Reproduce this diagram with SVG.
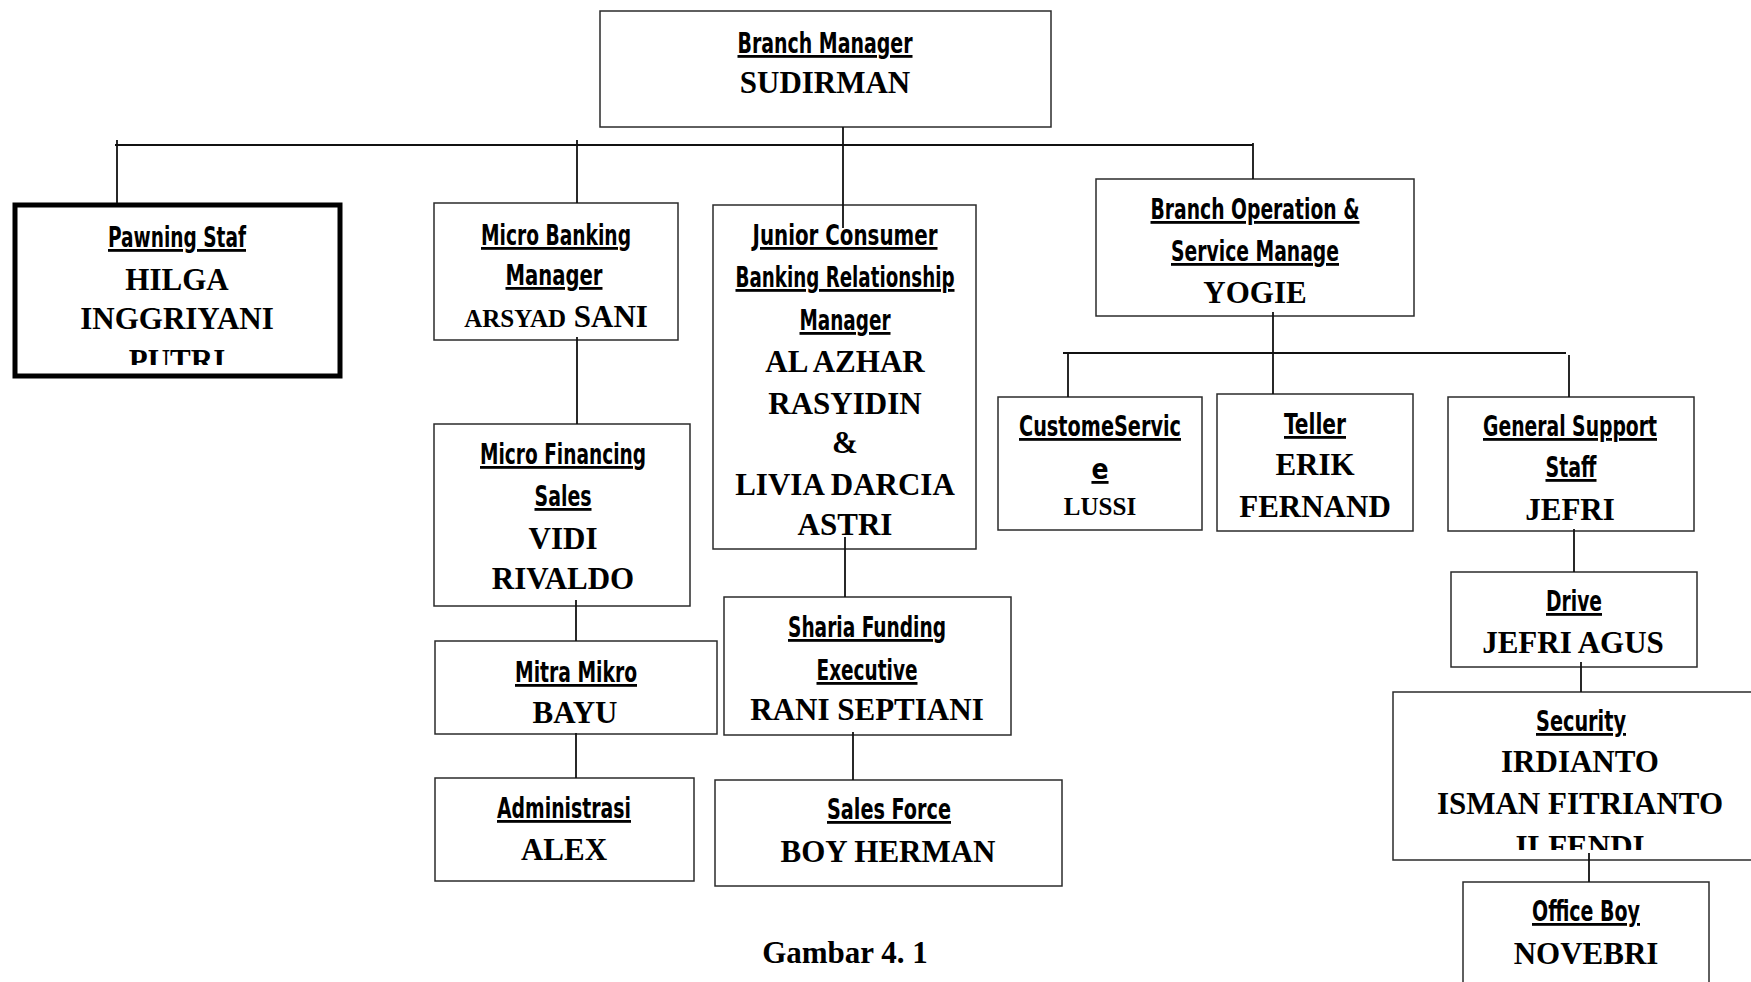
<svg xmlns="http://www.w3.org/2000/svg" width="1751" height="982" viewBox="0 0 1751 982">
<style>
.box{fill:#fff;stroke:#2b2b2b;stroke-width:1.5}
.t{font-family:'DejaVu Sans Condensed','DejaVu Sans',sans-serif;font-weight:bold;font-stretch:condensed;font-size:28px;text-anchor:middle;text-decoration:underline;fill:#000}
.n{font-family:'Liberation Serif','Times New Roman',serif;font-weight:bold;font-size:31px;text-anchor:middle;fill:#000}
.c{fill:none;stroke:#111;stroke-width:1.8}
</style>
<defs>
<clipPath id="clipPawn"><rect x="15" y="205" width="325" height="160"/></clipPath>
<clipPath id="clipSec"><rect x="1393" y="692" width="370" height="158"/></clipPath>
</defs>
<rect width="1751" height="982" fill="#fff"/>
<g id="branch-manager">
<rect class="box" x="600" y="11" width="451" height="116"/>
<text class="t" x="825" y="53" textLength="175" lengthAdjust="spacingAndGlyphs">Branch Manager</text>
<text class="n" x="825" y="93">SUDIRMAN</text>
</g>
<g id="pawning-staf">
<rect x="15" y="205" width="325" height="171" fill="#fff" stroke="#000" stroke-width="5"/>
<text class="t" x="177" y="247" textLength="138" lengthAdjust="spacingAndGlyphs">Pawning Staf</text>
<text class="n" x="177" y="290">HILGA</text>
<text class="n" x="177" y="329">INGGRIYANI</text>
<text class="n" x="177" y="371" clip-path="url(#clipPawn)">PUTRI</text>
</g>
<g id="micro-banking-manager">
<rect class="box" x="434" y="203" width="244" height="137"/>
<text class="t" x="556" y="245" textLength="150" lengthAdjust="spacingAndGlyphs">Micro Banking</text>
<text class="t" x="554" y="285" textLength="97" lengthAdjust="spacingAndGlyphs">Manager</text>
<text class="n" x="556" y="327"><tspan style="font-size:25px">ARSYAD</tspan> SANI</text>
</g>
<g id="micro-financing-sales">
<rect class="box" x="434" y="424" width="256" height="182"/>
<text class="t" x="563" y="464" textLength="166" lengthAdjust="spacingAndGlyphs">Micro Financing</text>
<text class="t" x="563" y="506" textLength="57" lengthAdjust="spacingAndGlyphs">Sales</text>
<text class="n" x="563" y="549">VIDI</text>
<text class="n" x="563" y="589">RIVALDO</text>
</g>
<g id="junior-consumer">
<rect class="box" x="713" y="205" width="263" height="344"/>
<text class="t" x="845" y="245" textLength="185" lengthAdjust="spacingAndGlyphs">Junior Consumer</text>
<text class="t" x="845" y="287" textLength="219" lengthAdjust="spacingAndGlyphs">Banking Relationship</text>
<text class="t" x="845" y="330" textLength="91" lengthAdjust="spacingAndGlyphs">Manager</text>
<text class="n" x="845" y="372">AL AZHAR</text>
<text class="n" x="845" y="414">RASYIDIN</text>
<text class="n" x="845" y="453">&amp;</text>
<text class="n" x="845" y="495">LIVIA DARCIA</text>
<text class="n" x="845" y="535">ASTRI</text>
</g>
<g id="sharia-funding">
<rect class="box" x="724" y="597" width="287" height="138"/>
<text class="t" x="867" y="637" textLength="158" lengthAdjust="spacingAndGlyphs">Sharia Funding</text>
<text class="t" x="867" y="680" textLength="101" lengthAdjust="spacingAndGlyphs">Executive</text>
<text class="n" x="867" y="720">RANI SEPTIANI</text>
</g>
<g id="sales-force">
<rect class="box" x="715" y="780" width="347" height="106"/>
<text class="t" x="889" y="819" textLength="124" lengthAdjust="spacingAndGlyphs">Sales Force</text>
<text class="n" x="888" y="862">BOY HERMAN</text>
</g>
<g id="mitra-mikro">
<rect class="box" x="435" y="641" width="282" height="93"/>
<text class="t" x="576" y="682" textLength="122" lengthAdjust="spacingAndGlyphs">Mitra Mikro</text>
<text class="n" x="575" y="723">BAYU</text>
</g>
<g id="administrasi">
<rect class="box" x="435" y="778" width="259" height="103" stroke-width="2"/>
<text class="t" x="564" y="818" textLength="134" lengthAdjust="spacingAndGlyphs">Administrasi</text>
<text class="n" x="564" y="860">ALEX</text>
</g>
<g id="branch-operation">
<rect class="box" x="1096" y="179" width="318" height="137"/>
<text class="t" x="1255" y="219" textLength="209" lengthAdjust="spacingAndGlyphs">Branch Operation &amp;</text>
<text class="t" x="1255" y="261" textLength="168" lengthAdjust="spacingAndGlyphs">Service Manage</text>
<text class="n" x="1255" y="303">YOGIE</text>
</g>
<g id="customer-service">
<rect class="box" x="998" y="397" width="204" height="133"/>
<text class="t" x="1100" y="436" textLength="162" lengthAdjust="spacingAndGlyphs">CustomeServic</text>
<text class="t" x="1100" y="479">e</text>
<text class="n" x="1100" y="515" style="font-size:25px">LUSSI</text>
</g>
<g id="teller">
<rect class="box" x="1217" y="394" width="196" height="137"/>
<text class="t" x="1315" y="434" textLength="62" lengthAdjust="spacingAndGlyphs">Teller</text>
<text class="n" x="1315" y="475">ERIK</text>
<text class="n" x="1315" y="517">FERNAND</text>
</g>
<g id="general-support">
<rect class="box" x="1448" y="397" width="246" height="134"/>
<text class="t" x="1570" y="436" textLength="174" lengthAdjust="spacingAndGlyphs">General Support</text>
<text class="t" x="1571" y="477" textLength="51" lengthAdjust="spacingAndGlyphs">Staff</text>
<text class="n" x="1570" y="520">JEFRI</text>
</g>
<g id="drive">
<rect class="box" x="1451" y="572" width="246" height="95"/>
<text class="t" x="1574" y="611" textLength="56" lengthAdjust="spacingAndGlyphs">Drive</text>
<text class="n" x="1573" y="653">JEFRI AGUS</text>
</g>
<g id="security">
<rect class="box" x="1393" y="692" width="370" height="168"/>
<text class="t" x="1581" y="731" textLength="90" lengthAdjust="spacingAndGlyphs">Security</text>
<text class="n" x="1580" y="772">IRDIANTO</text>
<text class="n" x="1580" y="814">ISMAN FITRIANTO</text>
<text class="n" x="1580" y="857" clip-path="url(#clipSec)">ILFENDI</text>
</g>
<g id="office-boy">
<rect class="box" x="1463" y="882" width="246" height="120"/>
<text class="t" x="1586" y="921" textLength="108" lengthAdjust="spacingAndGlyphs">Office Boy</text>
<text class="n" x="1586" y="964">NOVEBRI</text>
</g>
<g id="caption">
<text class="n" x="845" y="963">Gambar 4. 1</text>
</g>
<g id="connectors" class="c">
<path d="M115,145 H1253"/>
<path d="M117,140 V203"/>
<path d="M577,140 V203"/>
<path d="M843,127 V228"/>
<path d="M1253,143 V179"/>
<path d="M577,337 V424"/>
<path d="M576,600 V641"/>
<path d="M576,733 V778"/>
<path d="M845,537 V597"/>
<path d="M853,732 V780"/>
<path d="M1273,312 V394"/>
<path d="M1063,353 H1566"/>
<path d="M1068,353 V397"/>
<path d="M1569,355 V397"/>
<path d="M1574,529 V572"/>
<path d="M1581,662 V692"/>
<path d="M1589,853 V882"/>
</g>
</svg>
